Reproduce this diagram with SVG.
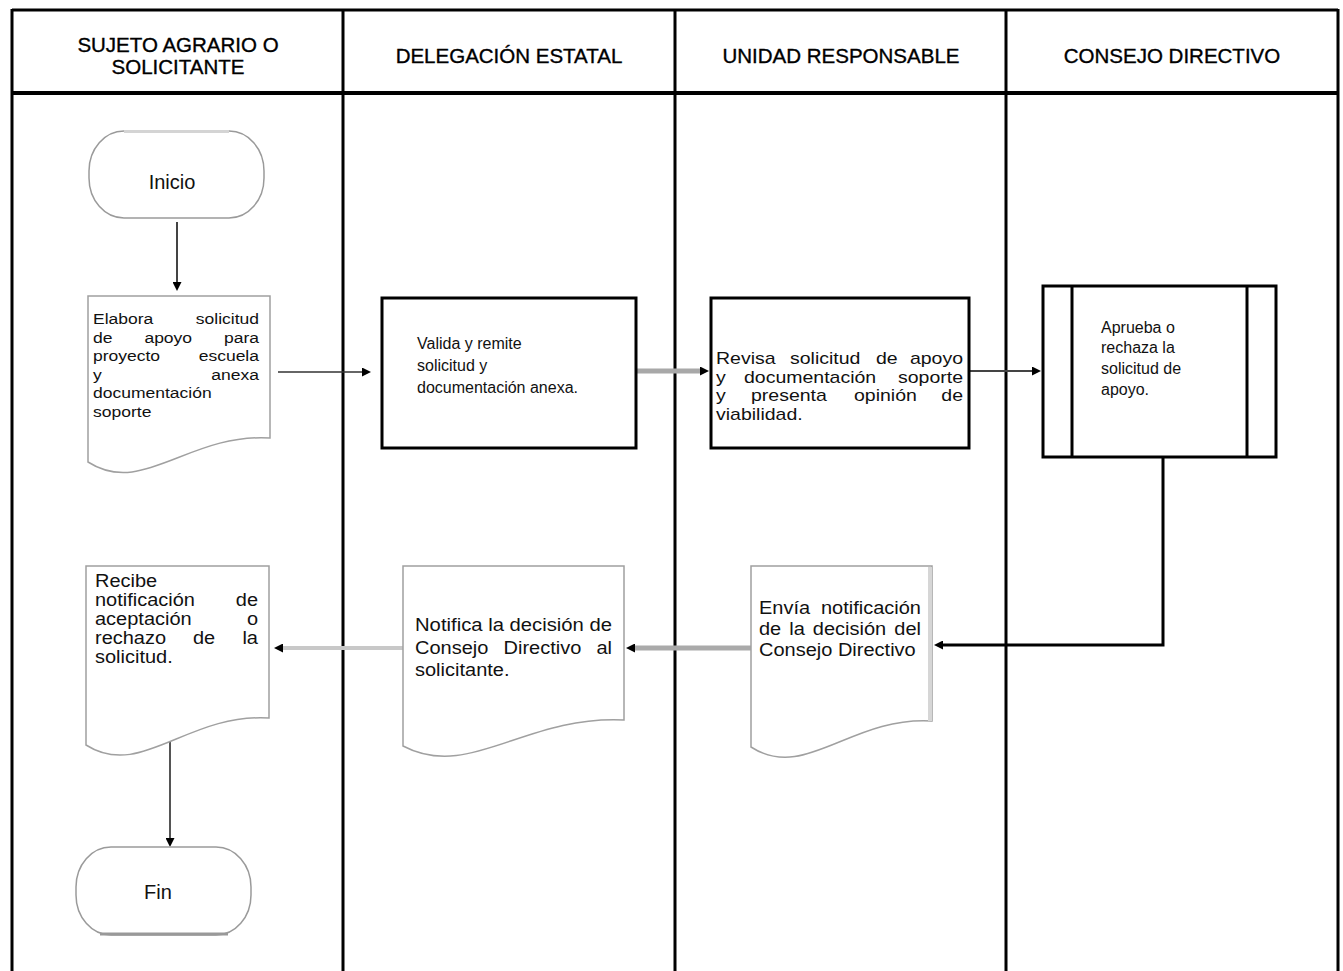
<svg xmlns="http://www.w3.org/2000/svg" width="1343" height="971" viewBox="0 0 1343 971">
<style>
.frame{stroke:#000;stroke-width:3;fill:none}
.hdr{font-family:"Liberation Sans",Arial,sans-serif;font-size:20.5px;fill:#000;text-anchor:middle;stroke:#000;stroke-width:0.35}
.t{font-family:"Liberation Sans",Arial,sans-serif;fill:#111}
.t20{font-size:20px}
.r17{font-size:17px}
.s17{font-size:17.5px}
.s15{font-size:15.5px}
.t16{font-size:16px}
.e{text-anchor:end}
.m{text-anchor:middle}
.term{fill:#fff;stroke:#9a9a9a;stroke-width:1.5}
.doc{fill:#fff;stroke:#a0a0a0;stroke-width:1.5}
.proc{fill:#fff;stroke:#000;stroke-width:3}
.c{fill:none}
</style>
<defs>
<marker id="ah" viewBox="0 0 10 10" refX="0" refY="5" markerWidth="9" markerHeight="9" markerUnits="userSpaceOnUse" orient="auto">
<path d="M0,0 L10,5 L0,10 z" fill="#000"/>
</marker>
</defs>
<rect width="1343" height="971" fill="#fff"/>
<g id="table">
<line class="frame" x1="12" y1="10" x2="1338" y2="10"/>
<line class="frame" x1="12" y1="93" x2="1338" y2="93" style="stroke-width:4"/>
<line class="frame" x1="12" y1="9" x2="12" y2="971"/>
<line class="frame" x1="343" y1="9" x2="343" y2="971"/>
<line class="frame" x1="675" y1="9" x2="675" y2="971"/>
<line class="frame" x1="1006" y1="9" x2="1006" y2="971"/>
<line class="frame" x1="1338" y1="9" x2="1338" y2="971"/>
<text class="hdr" x="178" y="52">SUJETO AGRARIO O</text>
<text class="hdr" x="178" y="74">SOLICITANTE</text>
<text class="hdr" x="509" y="63">DELEGACIÓN ESTATAL</text>
<text class="hdr" x="841" y="63">UNIDAD RESPONSABLE</text>
<text class="hdr" x="1172" y="63">CONSEJO DIRECTIVO</text>
</g>
<g id="connectors">
<path class="c" d="M177,222 V282" stroke="#444" stroke-width="2" marker-end="url(#ah)"/>
<path class="c" d="M278,372 H362" stroke="#333" stroke-width="1.5" marker-end="url(#ah)"/>
<path class="c" d="M636,371 H700" stroke="#a8a8a8" stroke-width="5" marker-end="url(#ah)"/>
<path class="c" d="M969,371 H1032" stroke="#444" stroke-width="2" marker-end="url(#ah)"/>
<path class="c" d="M1163,457 V645 H943" stroke="#000" stroke-width="3" marker-end="url(#ah)"/>
<path class="c" d="M751,648 H635" stroke="#aaa" stroke-width="5" marker-end="url(#ah)"/>
<path class="c" d="M403,648 H283" stroke="#c8c8c8" stroke-width="4" marker-end="url(#ah)"/>
<path class="c" d="M170,740 V838" stroke="#555" stroke-width="2" marker-end="url(#ah)"/>
</g>
<g id="inicio">
<rect class="term" x="89" y="131" width="175" height="87" rx="35" ry="40"/>
<line x1="124" y1="131.5" x2="229" y2="131.5" stroke="#d4d4d4" stroke-width="3"/>
<text class="t t20 m" x="172" y="189">Inicio</text>
</g>
<g id="elabora">
<path class="doc" d="M88,296 H270 V438 C188.1,433 142.6,497 88,462 Z"/>
<text class="t s15" x="93" y="324" textLength="60.3" lengthAdjust="spacingAndGlyphs">Elabora</text><text class="t s15 e" x="259" y="324" textLength="63.2" lengthAdjust="spacingAndGlyphs">solicitud</text>
<text class="t s15" x="93" y="342.5" textLength="19.5" lengthAdjust="spacingAndGlyphs">de</text><text class="t s15" x="144.4" y="342.5" textLength="47.7" lengthAdjust="spacingAndGlyphs">apoyo</text><text class="t s15 e" x="259" y="342.5" textLength="35" lengthAdjust="spacingAndGlyphs">para</text>
<text class="t s15" x="93" y="361" textLength="67.1" lengthAdjust="spacingAndGlyphs">proyecto</text><text class="t s15 e" x="259" y="361" textLength="60.3" lengthAdjust="spacingAndGlyphs">escuela</text>
<text class="t s15" x="93" y="379.5" textLength="8.75" lengthAdjust="spacingAndGlyphs">y</text><text class="t s15 e" x="259" y="379.5" textLength="47.7" lengthAdjust="spacingAndGlyphs">anexa</text>
<text class="t s15" x="93" y="398" textLength="118.7" lengthAdjust="spacingAndGlyphs">documentación</text>
<text class="t s15" x="93" y="416.5" textLength="58.4" lengthAdjust="spacingAndGlyphs">soporte</text>
</g>
<g id="valida">
<rect class="proc" x="382" y="298" width="254" height="150"/>
<text class="t t16" x="417" y="349">Valida y remite</text>
<text class="t t16" x="417" y="371">solicitud y</text>
<text class="t t16" x="417" y="393">documentación anexa.</text>
</g>
<g id="revisa">
<rect class="proc" x="711" y="298" width="258" height="150"/>
<text class="t r17" x="716" y="364" textLength="59.6" lengthAdjust="spacingAndGlyphs">Revisa</text><text class="t r17" x="790" y="364" textLength="70.4" lengthAdjust="spacingAndGlyphs">solicitud</text><text class="t r17" x="876" y="364" textLength="21.7" lengthAdjust="spacingAndGlyphs">de</text><text class="t r17 e" x="963" y="364" textLength="53.1" lengthAdjust="spacingAndGlyphs">apoyo</text>
<text class="t r17" x="716" y="382.5" textLength="9.75" lengthAdjust="spacingAndGlyphs">y</text><text class="t r17" x="744" y="382.5" textLength="132.2" lengthAdjust="spacingAndGlyphs">documentación</text><text class="t r17 e" x="963" y="382.5" textLength="65" lengthAdjust="spacingAndGlyphs">soporte</text>
<text class="t r17" x="716" y="401" textLength="9.75" lengthAdjust="spacingAndGlyphs">y</text><text class="t r17" x="751" y="401" textLength="75.9" lengthAdjust="spacingAndGlyphs">presenta</text><text class="t r17" x="854" y="401" textLength="62.9" lengthAdjust="spacingAndGlyphs">opinión</text><text class="t r17 e" x="963" y="401" textLength="21.7" lengthAdjust="spacingAndGlyphs">de</text>
<text class="t r17" x="716" y="419.5" textLength="86.7" lengthAdjust="spacingAndGlyphs">viabilidad.</text>
</g>
<g id="consejo">
<rect class="proc" x="1043" y="286" width="233" height="171"/>
<line x1="1072" y1="286" x2="1072" y2="457" stroke="#000" stroke-width="3"/>
<line x1="1247" y1="286" x2="1247" y2="457" stroke="#000" stroke-width="3"/>
<text class="t t16" x="1101" y="333">Aprueba o</text>
<text class="t t16" x="1101" y="353">rechaza la</text>
<text class="t t16" x="1101" y="374">solicitud de</text>
<text class="t t16" x="1101" y="395">apoyo.</text>
</g>
<g id="envia">
<path class="doc" d="M751,566 H932 V721 C850.6,716 805.3,782 751,747 Z"/>
<line x1="930" y1="567" x2="930" y2="721" stroke="#d6d6d6" stroke-width="4"/>
<text class="t s17" x="759" y="614" textLength="51.1" lengthAdjust="spacingAndGlyphs">Envía</text><text class="t s17 e" x="921" y="614" textLength="100" lengthAdjust="spacingAndGlyphs">notificación</text>
<text class="t s17" x="759" y="635" textLength="22.2" lengthAdjust="spacingAndGlyphs">de</text><text class="t s17" x="789.2" y="635" textLength="15.6" lengthAdjust="spacingAndGlyphs">la</text><text class="t s17" x="812.8" y="635" textLength="73.4" lengthAdjust="spacingAndGlyphs">decisión</text><text class="t s17 e" x="921" y="635" textLength="26.7" lengthAdjust="spacingAndGlyphs">del</text>
<text class="t s17" x="759" y="656" textLength="156.7" lengthAdjust="spacingAndGlyphs">Consejo Directivo</text>
</g>
<g id="notifica">
<path class="doc" d="M403,566 H624 V720 C524.6,715 469.3,781 403,746 Z"/>
<text class="t s17" x="415" y="631" textLength="197" lengthAdjust="spacingAndGlyphs">Notifica la decisión de</text>
<text class="t s17" x="415" y="654" textLength="73.4" lengthAdjust="spacingAndGlyphs">Consejo</text><text class="t s17" x="503.5" y="654" textLength="77.8" lengthAdjust="spacingAndGlyphs">Directivo</text><text class="t s17 e" x="612" y="654" textLength="15.6" lengthAdjust="spacingAndGlyphs">al</text>
<text class="t s17" x="415" y="676" textLength="94.5" lengthAdjust="spacingAndGlyphs">solicitante.</text>
</g>
<g id="recibe">
<path class="doc" d="M86,566 H269 V718 C186.7,713 140.9,780 86,745 Z"/>
<text class="t s17" x="95" y="587" textLength="62.2" lengthAdjust="spacingAndGlyphs">Recibe</text>
<text class="t s17" x="95" y="606" textLength="100" lengthAdjust="spacingAndGlyphs">notificación</text><text class="t s17 e" x="258" y="606" textLength="22.2" lengthAdjust="spacingAndGlyphs">de</text>
<text class="t s17" x="95" y="625" textLength="96.7" lengthAdjust="spacingAndGlyphs">aceptación</text><text class="t s17 e" x="258" y="625" textLength="11.1" lengthAdjust="spacingAndGlyphs">o</text>
<text class="t s17" x="95" y="644" textLength="71.1" lengthAdjust="spacingAndGlyphs">rechazo</text><text class="t s17" x="193" y="644" textLength="22.2" lengthAdjust="spacingAndGlyphs">de</text><text class="t s17 e" x="258" y="644" textLength="15.6" lengthAdjust="spacingAndGlyphs">la</text>
<text class="t s17" x="95" y="663" textLength="77.8" lengthAdjust="spacingAndGlyphs">solicitud.</text>
</g>
<g id="fin">
<rect class="term" x="76" y="847" width="175" height="88" rx="35" ry="40"/>
<line x1="100" y1="934" x2="228" y2="934" stroke="#999" stroke-width="3"/>
<text class="t t20 m" x="158" y="899">Fin</text>
</g>
</svg>
